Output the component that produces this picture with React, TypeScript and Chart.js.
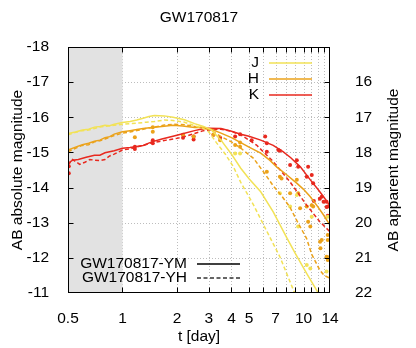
import React, { useEffect, useRef } from 'react';
import { Chart, registerables } from 'chart.js';
Chart.register(...registerables);

const FONT = "'Liberation Sans', Arial, Helvetica, sans-serif";
const FS = 15.5;
const J_COLOR = '#f2e256';
const H_COLOR = '#eba21a';
const K_COLOR = '#e8291f';

// ---- model light curves (t in days, absolute AB magnitude) ----
const jYmT = [0.5, 0.55, 0.6, 0.65, 0.7, 0.75, 0.8, 0.85, 0.9, 1.0, 1.1, 1.2, 1.3, 1.4, 1.5, 1.7, 1.9, 2.2, 2.5, 2.8, 3.1, 3.5, 4.0, 4.5, 5.0, 5.8, 6.8, 8.1, 9.0, 10.4, 11.8, 12.6];
const jYmM = [-15.54, -15.58, -15.64, -15.66, -15.72, -15.74, -15.77, -15.76, -15.8, -15.85, -15.88, -15.92, -15.97, -16.02, -16.05, -16.04, -16.0, -15.93, -15.82, -15.74, -15.64, -15.35, -14.95, -14.55, -14.25, -13.88, -13.31, -12.56, -12.13, -11.56, -11.08, -10.85];

const jYhT = [0.5, 0.55, 0.6, 0.65, 0.7, 0.75, 0.8, 0.9, 1.0, 1.1, 1.2, 1.35, 1.5, 1.7, 1.9, 2.2, 2.5, 2.8, 3.0, 3.3, 3.7, 4.1, 4.5, 5.3, 6.0, 7.4, 8.8, 9.3];
const jYhM = [-15.5, -15.57, -15.62, -15.64, -15.68, -15.72, -15.74, -15.77, -15.8, -15.82, -15.83, -15.86, -15.88, -15.92, -15.91, -15.86, -15.76, -15.68, -15.58, -15.28, -14.95, -14.59, -14.15, -13.5, -12.95, -12.03, -11.08, -10.8];

const hYmT = [0.5, 0.55, 0.6, 0.65, 0.7, 0.75, 0.8, 0.85, 0.9, 1.0, 1.1, 1.2, 1.3, 1.45, 1.65, 1.9, 2.15, 2.5, 2.8, 3.1, 3.5, 4.0, 4.5, 5.0, 5.8, 6.5, 7.1, 8.0, 9.2, 10.0, 10.9, 12.0, 12.9, 14.0];
const hYmM = [-15.07, -15.15, -15.22, -15.26, -15.32, -15.35, -15.42, -15.45, -15.52, -15.59, -15.62, -15.65, -15.68, -15.71, -15.74, -15.77, -15.75, -15.71, -15.71, -15.66, -15.55, -15.42, -15.28, -15.15, -14.98, -14.78, -14.59, -14.38, -14.12, -13.95, -13.74, -13.45, -13.22, -12.93];

const hYhT = [0.5, 0.55, 0.6, 0.65, 0.7, 0.75, 0.8, 0.9, 1.0, 1.1, 1.2, 1.35, 1.5, 1.7, 1.9, 2.2, 2.5, 2.8, 3.1, 3.5, 4.0, 4.5, 5.3, 6.0, 6.8, 7.6, 8.4, 9.2, 10.4, 11.1, 12.3, 13.0, 14.0];
const hYhM = [-15.02, -15.12, -15.2, -15.22, -15.3, -15.33, -15.38, -15.48, -15.55, -15.58, -15.62, -15.68, -15.72, -15.78, -15.8, -15.79, -15.74, -15.7, -15.62, -15.45, -15.3, -15.12, -14.83, -14.45, -14.05, -13.75, -13.45, -13.05, -12.55, -12.1, -11.65, -11.5, -11.42];

const kYmT = [0.5, 0.53, 0.57, 0.63, 0.7, 0.75, 0.8, 0.9, 1.0, 1.1, 1.2, 1.3, 1.45, 1.65, 1.9, 2.15, 2.5, 2.7, 3.0, 3.5, 4.0, 4.5, 5.0, 5.8, 6.8, 7.7, 8.5, 9.6, 10.9, 12.0, 12.9, 14.0];
const kYmM = [-14.69, -14.78, -14.8, -14.86, -14.92, -14.92, -14.99, -15.05, -15.12, -15.14, -15.17, -15.2, -15.3, -15.38, -15.46, -15.53, -15.62, -15.66, -15.69, -15.68, -15.6, -15.52, -15.46, -15.35, -15.2, -15.02, -14.85, -14.59, -14.22, -13.95, -13.74, -13.48];

const kYhT = [0.5, 0.53, 0.58, 0.62, 0.66, 0.7, 0.75, 0.8, 0.85, 0.9, 1.0, 1.1, 1.2, 1.3, 1.45, 1.6, 1.75, 2.0, 2.2, 2.5, 2.8, 3.1, 3.5, 4.0, 4.5, 5.5, 6.8, 8.4, 10.4, 12.3, 14.0];
const kYhM = [-14.64, -14.8, -14.66, -14.72, -14.8, -14.78, -14.77, -14.8, -14.9, -14.95, -15.07, -15.1, -15.16, -15.2, -15.27, -15.31, -15.35, -15.4, -15.45, -15.54, -15.62, -15.65, -15.66, -15.6, -15.5, -15.21, -14.74, -14.17, -13.5, -13.03, -12.74];

// ---- observed points ----
const kObsT = [0.505, 0.505, 1.17, 1.17, 1.47, 1.47, 2.16, 2.16, 2.47, 2.47, 3.18, 3.46, 4.19, 4.46, 5.17, 6.14, 6.27, 6.27, 7.26, 7.4, 8.43, 9.18, 9.34, 10.42, 10.6, 11.1, 11.3, 11.4, 12.3, 12.6, 12.9, 13.4, 13.4, 13.6, 13.6];
const kObsM = [-14.61, -14.41, -15.16, -15.1, -15.35, -15.26, -15.5, -15.42, -15.45, -15.37, -15.5, -15.42, -15.45, -15.52, -15.35, -15.45, -15.26, -15.02, -15.07, -15.05, -14.64, -14.78, -14.59, -14.31, -14.59, -14.36, -14.12, -13.62, -13.68, -13.74, -13.6, -13.6, -13.45, -13.46, -13.2];

const hObsT = [1.17, 1.47, 1.47, 2.16, 2.47, 3.18, 3.46, 4.19, 4.46, 4.46, 6.27, 7.4, 7.56, 8.43, 9.18, 9.34, 9.57, 10.42, 10.6, 10.9, 11.1, 11.3, 12.34, 12.4, 12.6, 13.4, 13.6, 13.6, 13.6, 14.0];
const hObsM = [-15.43, -15.72, -15.59, -15.5, -15.45, -15.5, -15.35, -15.21, -15.16, -15.28, -14.45, -14.31, -14.26, -13.84, -14.22, -13.84, -13.41, -13.46, -13.03, -12.89, -13.5, -13.46, -12.46, -12.27, -12.51, -12.03, -12.65, -12.51, -11.94, -12.03];

const jObsT = [4.19, 4.46, 7.4, 8.43, 9.18, 9.34, 10.42, 10.9, 11.1, 13.4, 13.6];
const jObsM = [-14.97, -14.97, -13.84, -13.46, -13.79, -12.89, -11.8, -11.7, -13.17, -11.61, -13.17];

// ---- axes ----
const xTickLabels = [0.5, 1, 2, 3, 4, 5, 7, 10, 14];
const xMinorTicks = [6, 8, 9, 11, 12, 13];
const gridDays = [1, 2, 3, 4, 5, 6, 7, 8, 9, 10, 11, 12, 13];
const absTicks = [-18, -17, -16, -15, -14, -13, -12, -11];
const gridMags = [-17, -16, -15, -14, -13, -12];
const appTicks = [16, 17, 18, 19, 20, 21, 22];

const pts = (t: number[], m: number[]) => t.map((v, i) => ({ x: v, y: m[i] }));

const lineDs = (label: string, t: number[], m: number[], color: string, dashed: boolean) => ({
  label,
  data: pts(t, m),
  borderColor: color,
  backgroundColor: color,
  borderWidth: 1.5,
  borderDash: dashed ? [4, 2.5] : [],
  pointRadius: 0,
  showLine: true,
  tension: 0,
  yAxisID: 'y',
});

const dotDs = (label: string, t: number[], m: number[], color: string) => ({
  label,
  data: pts(t, m),
  borderColor: color,
  backgroundColor: color,
  borderWidth: 0,
  pointRadius: 2,
  showLine: false,
  yAxisID: 'y',
});

const decor = {
  id: 'decor',
  beforeDatasetsDraw(chart: any) {
    const { ctx, chartArea: a, scales } = chart;
    const x = scales.x, y = scales.y;
    ctx.save();
    ctx.strokeStyle = '#bdbdbd';
    ctx.lineWidth = 1;
    ctx.setLineDash([1, 2]);
    for (const d of gridDays) {
      const px = Math.round(x.getPixelForValue(d)) + 0.5;
      ctx.beginPath(); ctx.moveTo(px, a.top); ctx.lineTo(px, a.bottom); ctx.stroke();
    }
    for (const m of gridMags) {
      const py = Math.round(y.getPixelForValue(m)) + 0.5;
      ctx.beginPath(); ctx.moveTo(a.left, py); ctx.lineTo(a.right, py); ctx.stroke();
    }
    ctx.setLineDash([]);
    const g0 = x.getPixelForValue(0.5), g1 = x.getPixelForValue(1);
    ctx.fillStyle = '#e2e2e2';
    ctx.fillRect(g0, a.top, g1 - g0, a.bottom - a.top);
    ctx.restore();
  },
  afterDatasetsDraw(chart: any) {
    const { ctx, chartArea: a, scales } = chart;
    const x = scales.x, y = scales.y, y2 = scales.y2;
    ctx.save();
    ctx.strokeStyle = '#000';
    ctx.lineWidth = 1;
    const L = Math.round(a.left) + 0.5, R = Math.round(a.right) - 0.5;
    const T = Math.round(a.top) + 0.5, B = Math.round(a.bottom) - 0.5;
    ctx.strokeRect(L, T, R - L, B - T);
    const tl = 5;
    ctx.beginPath();
    for (const d of [...xTickLabels, ...xMinorTicks]) {
      if (d <= 0.5 || d >= 14) continue;
      const px = Math.round(x.getPixelForValue(d)) + 0.5;
      ctx.moveTo(px, B); ctx.lineTo(px, B - tl);
      ctx.moveTo(px, T); ctx.lineTo(px, T + tl);
    }
    for (const m of absTicks) {
      if (m <= -18 || m >= -11) continue;
      const py = Math.round(y.getPixelForValue(m)) + 0.5;
      ctx.moveTo(L, py); ctx.lineTo(L + tl, py);
    }
    for (const m of appTicks) {
      if (m >= 22) continue;
      const py = Math.round(y2.getPixelForValue(m)) + 0.5;
      ctx.moveTo(R, py); ctx.lineTo(R - tl, py);
    }
    ctx.stroke();

    ctx.font = `${FS}px ${FONT}`;
    ctx.fillStyle = '#000';
    ctx.textBaseline = 'middle';

    // right axis title, reading bottom-to-top
    ctx.save();
    ctx.translate(394, (a.top + a.bottom) / 2);
    ctx.rotate(-Math.PI / 2);
    ctx.textAlign = 'center';
    ctx.fillText('AB apparent magnitude', 0, 0);
    ctx.restore();

    // legends
    ctx.textAlign = 'right';
    const bands = [['J', J_COLOR, 63], ['H', H_COLOR, 79], ['K', K_COLOR, 95]] as [string, string, number][];
    for (const [lab, col, yy] of bands) {
      ctx.fillStyle = '#000';
      ctx.fillText(lab, 259, yy);
      ctx.strokeStyle = col;
      ctx.lineWidth = 1.5;
      ctx.beginPath(); ctx.moveTo(269, yy); ctx.lineTo(312, yy); ctx.stroke();
    }
    const models = [['GW170817-YM', false, 264], ['GW170817-YH', true, 278]] as [string, boolean, number][];
    for (const [lab, dash, yy] of models) {
      ctx.fillStyle = '#000';
      ctx.fillText(lab, 187, yy);
      ctx.strokeStyle = dash ? '#333' : '#000';
      ctx.lineWidth = 1.3;
      ctx.setLineDash(dash ? [4, 2.5] : []);
      ctx.beginPath(); ctx.moveTo(197, yy); ctx.lineTo(240, yy); ctx.stroke();
    }
    ctx.restore();
  },
};

export default function App() {
  const ref = useRef<HTMLCanvasElement>(null);
  useEffect(() => {
    if (!ref.current) return;
    const font = { family: FONT, size: FS };
    const chart = new Chart(ref.current, {
      type: 'line',
      data: {
        datasets: [
          lineDs('J YM', jYmT, jYmM, J_COLOR, false),
          lineDs('J YH', jYhT, jYhM, J_COLOR, true),
          lineDs('H YM', hYmT, hYmM, H_COLOR, false),
          lineDs('H YH', hYhT, hYhM, H_COLOR, true),
          lineDs('K YM', kYmT, kYmM, K_COLOR, false),
          lineDs('K YH', kYhT, kYhM, K_COLOR, true),
          dotDs('J obs', jObsT, jObsM, J_COLOR),
          dotDs('H obs', hObsT, hObsM, H_COLOR),
          dotDs('K obs', kObsT, kObsM, K_COLOR),
        ] as any,
      },
      options: {
        animation: false,
        responsive: false,
        devicePixelRatio: 1,
        layout: { padding: 0 },
        plugins: {
          legend: { display: false },
          tooltip: { enabled: false },
          title: {
            display: true,
            text: 'GW170817',
            color: '#000',
            font: { family: FONT, size: FS, weight: 'normal' },
            padding: { top: 8.7, bottom: 19.7 },
            fullSize: false,
          },
        },
        scales: {
          x: {
            type: 'logarithmic',
            min: 0.5,
            max: 14,
            grid: { display: false },
            border: { display: false },
            afterBuildTicks: (s: any) => { s.ticks = xTickLabels.map((v) => ({ value: v })); },
            ticks: { color: '#000', font, padding: 8.7, autoSkip: false, maxRotation: 0, callback: (v: any) => String(v) },
            title: { display: true, text: 't [day]', color: '#000', font, padding: { top: 0, bottom: 1.7 } },
            afterFit: (s: any) => { s.height = 55; },
          },
          y: {
            type: 'linear',
            position: 'left',
            min: -18,
            max: -11,
            reverse: true,
            grid: { display: false },
            border: { display: false },
            ticks: { color: '#000', font, padding: 11, stepSize: 1, callback: (v: any) => String(v) },
            title: { display: true, text: 'AB absolute magnitude', color: '#000', font, padding: { top: 8.7, bottom: 0 } },
            afterFit: (s: any) => { s.width = 68; },
          },
          y2: {
            type: 'linear',
            position: 'right',
            min: 15,
            max: 22,
            reverse: true,
            grid: { display: false },
            border: { display: false },
            ticks: { color: '#000', font, padding: 17, stepSize: 1, callback: (v: any) => (v === 15 ? '' : String(v)) },
            title: { display: false },
            afterFit: (s: any) => { s.width = 86; },
          },
        },
      } as any,
      plugins: [decor],
    });
    return () => chart.destroy();
  }, []);
  return (
    <div style={{ position: 'fixed', left: 0, top: 0, width: 416, height: 348, background: '#fff' }}>
      <canvas ref={ref} width={416} height={348} style={{ width: 416, height: 348, display: 'block' }} />
    </div>
  );
}
